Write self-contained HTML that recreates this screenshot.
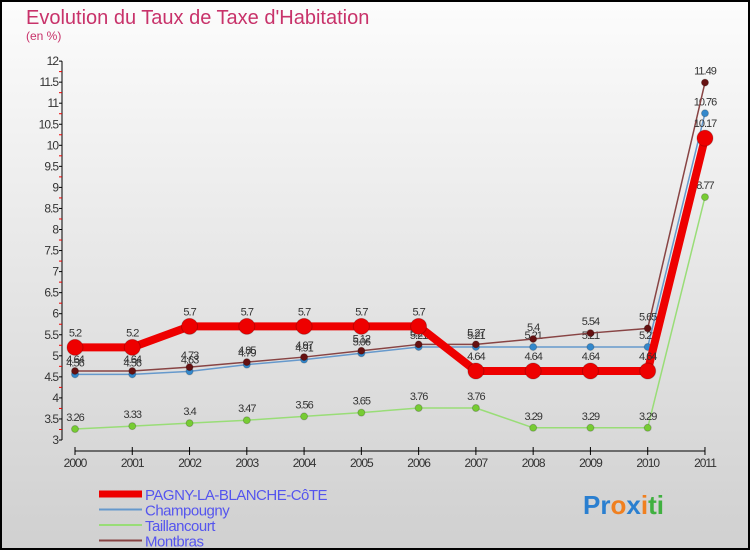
<!DOCTYPE html>
<html><head><meta charset="utf-8"><style>
body{margin:0}
#c{width:750px;height:550px;position:relative;overflow:hidden;box-sizing:border-box;border:2px solid #000;background:linear-gradient(#fcfcfc,#d0d0d0);font-family:"Liberation Sans",sans-serif}
</style></head><body>
<div id="c">
<svg id="s" width="750" height="550" style="position:absolute;left:-2px;top:-2px">
<text x="26" y="24" font-size="20" fill="#c8326a">Evolution du Taux de Taxe d'Habitation</text>
<text x="26" y="40" font-size="12" fill="#c8326a">(en %)</text>
<g id="ax"></g><g id="ser"></g><g id="lg"></g>
<text x="583" y="514" font-size="26" font-weight="bold"><tspan fill="#2a7fd0">Pr</tspan><tspan fill="#f08020">o</tspan><tspan fill="#2a7fd0">x</tspan><tspan fill="#f08020">i</tspan><tspan fill="#40b040">ti</tspan></text>
</svg>
</div>
<script>
const years=[2000,2001,2002,2003,2004,2005,2006,2007,2008,2009,2010,2011];
const yTicks=[3,3.5,4,4.5,5,5.5,6,6.5,7,7.5,8,8.5,9,9.5,10,10.5,11,11.5,12];
const names=["PAGNY-LA-BLANCHE-CôTE","Champougny","Taillancourt","Montbras"];
const pagny=[5.2,5.2,5.7,5.7,5.7,5.7,5.7,4.64,4.64,4.64,4.64,10.17];
const champ=[4.56,4.56,4.63,4.79,4.91,5.06,5.21,5.21,5.21,5.21,5.21,10.76];
const taill=[3.26,3.33,3.4,3.47,3.56,3.65,3.76,3.76,3.29,3.29,3.29,8.77];
const montb=[4.64,4.64,4.73,4.85,4.97,5.12,5.27,5.27,5.4,5.54,5.65,11.49];
const NS="http://www.w3.org/2000/svg";
const X=i=>75+i*57.27, Y=v=>440-(v-3)*42.1;
function mk(t,a,p){const e=document.createElementNS(NS,t);for(const k in a)e.setAttribute(k,a[k]);p.appendChild(e);return e;}
const ax=document.getElementById('ax');
let l=mk('line',{x1:62,y1:Y(3),x2:62,y2:Y(12),stroke:'#000'},ax);

yTicks.forEach(v=>{
 mk('line',{x1:59,x2:62,y1:Y(v),y2:Y(v),stroke:'#000'},ax);
 mk('line',{x1:59,x2:62,y1:Y(v+0.25),y2:Y(v+0.25),stroke:v<12?'#e00':'none'},ax);
 const t=mk('text',{x:58,y:Y(v)+4,'text-anchor':'end','font-size':12,fill:'#333','letter-spacing':'-1'},ax);t.textContent=v;
 
});
l=mk('line',{x1:X(0),x2:X(11),y1:451,y2:451,stroke:'#000'},ax);

years.forEach((y,i)=>{
 mk('line',{x1:X(i),x2:X(i),y1:447,y2:455,stroke:'#000'},ax);
 const t=mk('text',{x:X(i),y:467,'text-anchor':'middle','font-size':12,fill:'#333','letter-spacing':'-1'},ax);t.textContent=y;
 
});
const ser=document.getElementById('ser');
const defs=[[taill,'#99dd77','#77cc33',1.5,3.5,'taillancourt'],[champ,'#6699cc','#3388cc',1.5,3.5,'champougny'],[montb,'#884444','#661111',1.5,3.5,'montbras'],[pagny,'#ee0000','#ee0000',8,8,'pagny']];
defs.forEach(([d,lc,pc,w,r,n])=>{
 const g=mk('g',{},ser);
 mk('polyline',{points:d.map((v,i)=>X(i)+','+Y(v)).join(' '),fill:'none',stroke:lc,'stroke-width':w,'stroke-linejoin':'round'},g);
 d.forEach((v,i)=>{
  const c=mk('circle',{cx:X(i),cy:Y(v),r:r,fill:pc,stroke:'rgba(0,0,0,0.2)'},g);
  
  const t=mk('text',{x:X(i),y:Y(v)-(n=='pagny'?11:8),'text-anchor':'middle','font-size':11,fill:'#333','letter-spacing':'-1'},g);t.textContent=v;
  
 });
});
const lg=document.getElementById('lg');
const lcols=['#ee0000','#6699cc','#99dd77','#884444'],lw=[7,2,2,2];
names.forEach((n,i)=>{
 const y=494+i*15.5;
 const g=mk('g',{},lg);
 mk('line',{x1:99,x2:142,y1:y,y2:y,stroke:lcols[i],'stroke-width':lw[i]},g);
 const t=mk('text',{x:145,y:y+6,'font-size':15,fill:'#5555ee','letter-spacing':'-0.5'},g);t.textContent=n;
});
</script>
</body></html>
